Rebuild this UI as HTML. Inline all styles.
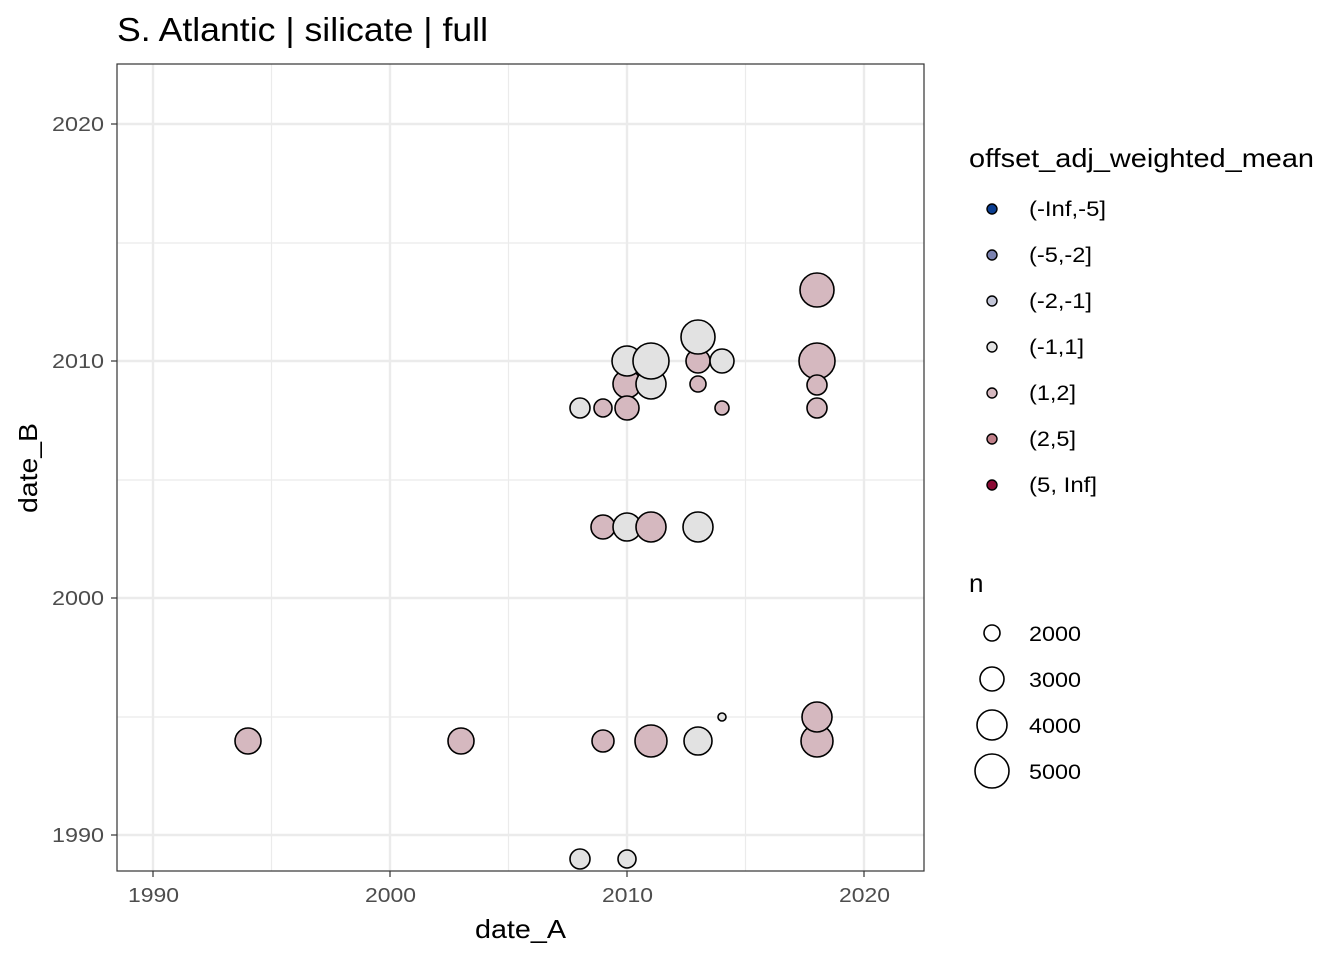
<!DOCTYPE html>
<html><head><meta charset="utf-8"><style>body{margin:0;background:#fff}svg{display:block}</style></head><body>
<svg width="1344" height="960" xmlns="http://www.w3.org/2000/svg" font-family="Liberation Sans, sans-serif">
<rect width="1344" height="960" fill="#fff"/>
<g stroke="#ebebeb" stroke-width="1.2">
<line x1="271.5" y1="64" x2="271.5" y2="871"/><line x1="508.5" y1="64" x2="508.5" y2="871"/><line x1="745.5" y1="64" x2="745.5" y2="871"/>
<line x1="117" y1="243" x2="924" y2="243"/><line x1="117" y1="480" x2="924" y2="480"/><line x1="117" y1="717" x2="924" y2="717"/>
</g>
<g stroke="#ebebeb" stroke-width="2.4">
<line x1="153" y1="64" x2="153" y2="871"/><line x1="390" y1="64" x2="390" y2="871"/><line x1="627" y1="64" x2="627" y2="871"/><line x1="864" y1="64" x2="864" y2="871"/>
<line x1="117" y1="124" x2="924" y2="124"/><line x1="117" y1="361" x2="924" y2="361"/><line x1="117" y1="598" x2="924" y2="598"/><line x1="117" y1="835" x2="924" y2="835"/>
</g>
<g stroke="#000" stroke-width="1.6">
<circle cx="248" cy="741" r="13" fill="#d5b8bf"/>
<circle cx="461" cy="741" r="13" fill="#d5b8bf"/>
<circle cx="603" cy="741" r="11" fill="#d5b8bf"/>
<circle cx="651" cy="741" r="16" fill="#d5b8bf"/>
<circle cx="698" cy="741" r="14" fill="#e2e2e2"/>
<circle cx="722" cy="717" r="4" fill="#e2e2e2"/>
<circle cx="817" cy="741" r="16" fill="#d5b8bf"/>
<circle cx="817" cy="717" r="15" fill="#d5b8bf"/>
<circle cx="580" cy="859" r="10" fill="#e2e2e2"/>
<circle cx="627" cy="859" r="9" fill="#e2e2e2"/>
<circle cx="603" cy="527" r="12" fill="#d5b8bf"/>
<circle cx="627" cy="527" r="14" fill="#e2e2e2"/>
<circle cx="651" cy="527" r="15" fill="#d5b8bf"/>
<circle cx="698" cy="527" r="15" fill="#e2e2e2"/>
<circle cx="580" cy="408" r="10" fill="#e2e2e2"/>
<circle cx="603" cy="408" r="9" fill="#d5b8bf"/>
<circle cx="627" cy="384" r="14" fill="#d5b8bf"/>
<circle cx="627" cy="408" r="12" fill="#d5b8bf"/>
<circle cx="627" cy="361" r="15" fill="#e2e2e2"/>
<circle cx="651" cy="384" r="15" fill="#e2e2e2"/>
<circle cx="651" cy="361" r="18" fill="#e2e2e2"/>
<circle cx="698" cy="361" r="12" fill="#d5b8bf"/>
<circle cx="698" cy="337" r="17" fill="#e2e2e2"/>
<circle cx="698" cy="384" r="8" fill="#d5b8bf"/>
<circle cx="722" cy="361" r="12" fill="#e2e2e2"/>
<circle cx="722" cy="408" r="7" fill="#d5b8bf"/>
<circle cx="817" cy="290" r="17" fill="#d5b8bf"/>
<circle cx="817" cy="361" r="18" fill="#d5b8bf"/>
<circle cx="817" cy="385" r="10" fill="#d5b8bf"/>
<circle cx="817" cy="408" r="10" fill="#d5b8bf"/>
</g>
<rect x="117" y="64" width="807" height="807" fill="none" stroke="#333" stroke-width="1.2"/>
<g stroke="#333" stroke-width="1.2">
<line x1="153" y1="871" x2="153" y2="877"/><line x1="390" y1="871" x2="390" y2="877"/><line x1="627" y1="871" x2="627" y2="877"/><line x1="864" y1="871" x2="864" y2="877"/>
<line x1="111" y1="124" x2="117" y2="124"/><line x1="111" y1="361" x2="117" y2="361"/><line x1="111" y1="598" x2="117" y2="598"/><line x1="111" y1="835" x2="117" y2="835"/>
</g>
<g font-size="20" fill="#4d4d4d" lengthAdjust="spacingAndGlyphs">
<text x="128" y="902" textLength="51" lengthAdjust="spacingAndGlyphs">1990</text><text x="365" y="902" textLength="51" lengthAdjust="spacingAndGlyphs">2000</text><text x="602" y="902" textLength="51" lengthAdjust="spacingAndGlyphs">2010</text><text x="839" y="902" textLength="51" lengthAdjust="spacingAndGlyphs">2020</text>
<text x="52" y="131" textLength="52" lengthAdjust="spacingAndGlyphs">2020</text><text x="52" y="368" textLength="52" lengthAdjust="spacingAndGlyphs">2010</text><text x="52" y="605" textLength="52" lengthAdjust="spacingAndGlyphs">2000</text><text x="52" y="842" textLength="52" lengthAdjust="spacingAndGlyphs">1990</text>
</g>
<text x="475" y="938" font-size="26" textLength="91" lengthAdjust="spacingAndGlyphs">date_A</text>
<text transform="translate(37,513) rotate(-90)" font-size="26" textLength="90" lengthAdjust="spacingAndGlyphs">date_B</text>
<text x="117" y="41" font-size="33" textLength="371" lengthAdjust="spacingAndGlyphs">S. Atlantic | silicate | full</text>
<text x="969" y="167" font-size="26" textLength="345" lengthAdjust="spacingAndGlyphs">offset_adj_weighted_mean</text>
<g stroke="#000" stroke-width="1.4">
<circle cx="992" cy="209" r="5" fill="#0b3e91"/>
<circle cx="992" cy="255" r="5" fill="#7b82b0"/>
<circle cx="992" cy="301" r="5" fill="#c3c6d8"/>
<circle cx="992" cy="347" r="5" fill="#e2e2e2"/>
<circle cx="992" cy="393" r="5" fill="#d5b8bf"/>
<circle cx="992" cy="439" r="5" fill="#c0808a"/>
<circle cx="992" cy="485" r="5" fill="#8a0a34"/>
</g>
<g font-size="21" fill="#000">
<text x="1029" y="216" textLength="77" lengthAdjust="spacingAndGlyphs">(-Inf,-5]</text><text x="1029" y="262" textLength="63" lengthAdjust="spacingAndGlyphs">(-5,-2]</text><text x="1029" y="308" textLength="63" lengthAdjust="spacingAndGlyphs">(-2,-1]</text><text x="1029" y="354" textLength="55" lengthAdjust="spacingAndGlyphs">(-1,1]</text><text x="1029" y="400" textLength="47" lengthAdjust="spacingAndGlyphs">(1,2]</text><text x="1029" y="446" textLength="47" lengthAdjust="spacingAndGlyphs">(2,5]</text><text x="1029" y="492" textLength="68" lengthAdjust="spacingAndGlyphs">(5, Inf]</text>
</g>
<text x="969" y="592" font-size="26">n</text>
<g stroke="#000" stroke-width="1.6" fill="none">
<circle cx="992" cy="633" r="8"/><circle cx="992" cy="679" r="12"/><circle cx="992" cy="725" r="15"/><circle cx="992" cy="771" r="17"/>
</g>
<g font-size="21">
<text x="1029" y="641" textLength="52" lengthAdjust="spacingAndGlyphs">2000</text><text x="1029" y="687" textLength="52" lengthAdjust="spacingAndGlyphs">3000</text><text x="1029" y="733" textLength="52" lengthAdjust="spacingAndGlyphs">4000</text><text x="1029" y="779" textLength="52" lengthAdjust="spacingAndGlyphs">5000</text>
</g>
</svg>
</body></html>
